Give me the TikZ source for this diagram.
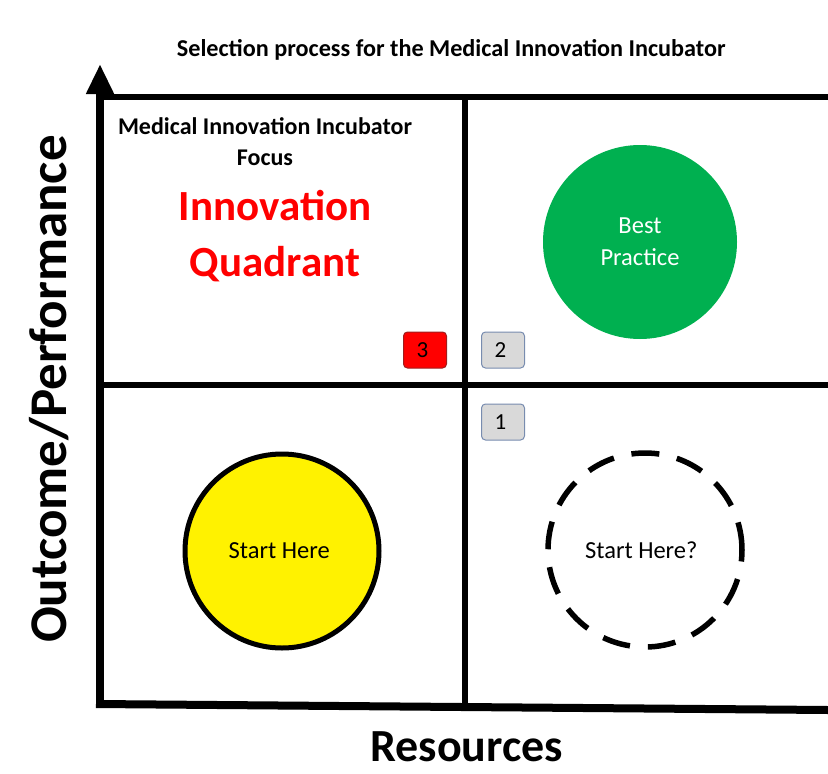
\documentclass[tikz,border=0pt]{standalone}
\usepackage{fontspec}
\setmainfont{Carlito}
\usetikzlibrary{positioning, shapes.geometric, arrows.meta}

\definecolor{bestgreen}{RGB}{0,176,80}
\definecolor{tagred}{RGB}{255,0,0}
\definecolor{tagredline}{RGB}{160,30,30}
\definecolor{taggray}{RGB}{217,217,217}
\definecolor{taggrayline}{RGB}{120,140,175}

\begin{document}
\begin{tikzpicture}[x = 1pt, y = -1pt,
    every node/.style = { align = center, inner sep = 0pt },
    axis/.style = { line width = 8pt },
    grid/.style = { line width = 6.5pt },
    disc/.style = { circle, minimum size = 194pt, font = \fontsize{24.5}{32}\selectfont },
    tag/.style = { draw, rounded corners = 4pt, line width = 1pt,
                   minimum width = 43pt, minimum height = 36pt,
                   font = \fontsize{23}{24}\selectfont } ]
    \useasboundingbox (0,0) rectangle (828,774);

    % frame of the matrix
    \coordinate (o)   at (100,705);
    \coordinate (top) at (100,64);
    \coordinate (xr)  at (828,710);
    \coordinate (tl)  at (100,97);
    \coordinate (tr)  at (828,97);
    \coordinate (ml)  at (100,385);
    \coordinate (mr)  at (828,385);
    \coordinate (mt)  at (465,97);
    \coordinate (mb)  at (465,707);
    \draw[axis, -{Triangle[width = 26pt, length = 30pt]}] (o) -- (top);
    \draw[axis] (96,704) -- (xr);
    \draw[grid] (tl) -- (tr);
    \draw[grid] (ml) -- (mr);
    \draw[grid] (mt) -- (mb);

    % labels
    \node (title) [font = \fontsize{24.2}{28}\selectfont\bfseries, anchor = base]
        at (454,56) { Selection process for the Medical Innovation Incubator };
    \node (ylabel) [rotate = 90, font = \fontsize{53}{60}\selectfont\bfseries]
        at (49,383) { Outcome/Performance };
    \node (xlabel) [font = \fontsize{46}{52}\selectfont\bfseries,
                    anchor = base, text depth = 0pt]
        at (472,761) { Resources };

    % innovation quadrant
    \node (focus) [font = \fontsize{24}{31}\selectfont\bfseries]
        at (265,142) { Medical Innovation Incubator \\ Focus };
    \node (quad) [text = tagred, font = \fontsize{43}{56}\selectfont\bfseries]
        at (275,236) { Innovation \\ Quadrant };

    \node (best)  [disc, fill = bestgreen, text = white] at (640,242) { Best \\ Practice };
    \node (start) [disc, fill = yellow, draw, line width = 5pt] at (282,551) { Start Here };
    \node (maybe) [disc, draw, line width = 5.5pt,
                   dash pattern = on 28pt off 18pt] at (645,550) { Start Here? };

    \node (n3) [tag, fill = tagred, draw = tagredline] at (425,350) { 3 };
    \node (n2) [tag, fill = taggray, draw = taggrayline] at (503,350) { 2 };
    \node (n1) [tag, fill = taggray, draw = taggrayline] at (503,422) { 1 };
\end{tikzpicture}
\end{document}
